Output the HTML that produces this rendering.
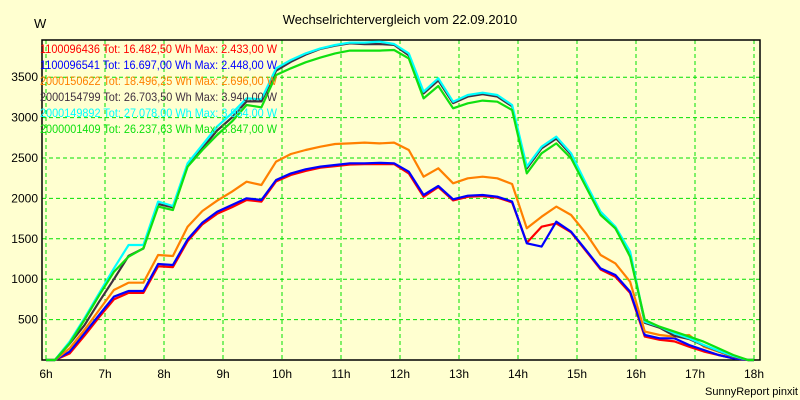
<!DOCTYPE html>
<html><head><meta charset="utf-8"><style>
html,body{margin:0;padding:0;background:#ffffd0;}
svg{display:block;font-family:"Liberation Sans",Arial,sans-serif;}
</style></head><body>
<svg id="chart" width="800" height="400" viewBox="0 0 800 400">
<rect x="0" y="0" width="800" height="400" fill="#ffffd0"/>
<text x="400" y="24" font-size="13" text-anchor="middle" fill="#000">Wechselrichtervergleich vom 22.09.2010</text>
<text x="34" y="28" font-size="13" fill="#000">W</text>
<text x="798" y="395" font-size="11" text-anchor="end" fill="#000">SunnyReport pinxit</text>
<g id="grid"></g>
<g id="axes"></g>
<g id="series"></g>
<g id="legend"></g>
</svg>
<script>
const xTicks = [6,7,8,9,10,11,12,13,14,15,16,17,18];
const xTickLabels = ["6h","7h","8h","9h","10h","11h","12h","13h","14h","15h","16h","17h","18h"];
const yTicks = [500,1000,1500,2000,2500,3000,3500];
const yTickLabels = ["500","1000","1500","2000","2500","3000","3500"];
const times = [6,6.15,6.4,6.65,6.9,7.15,7.4,7.65,7.9,8.15,8.4,8.65,8.9,9.15,9.4,9.65,9.9,10.15,10.4,10.65,10.9,11.15,11.4,11.65,11.9,12.15,12.4,12.65,12.9,13.15,13.4,13.65,13.9,14.15,14.4,14.65,14.9,15.15,15.4,15.65,15.9,16.15,16.4,16.65,16.9,17.15,17.4,17.65,17.9,18];
const seriesNames = ["1100096436","1100096541","2000150622","2000154799","2000149892","2000001409"];
const legendTexts = ["Tot: 16.482,50 Wh Max: 2.433,00 W","Tot: 16.697,00 Wh Max: 2.448,00 W","Tot: 18.496,25 Wh Max: 2.696,00 W","Tot: 26.703,50 Wh Max: 3.940,00 W","Tot: 27.078,00 Wh Max: 3.954,00 W","Tot: 26.237,63 Wh Max: 3.847,00 W"];
const seriesColors = ["#ff0000","#0000ff","#ff8000","#403040","#00ffff","#10e010"];
const s1100096436 = [0,0,80,300,530,750,830,830,1160,1150,1470,1680,1810,1890,1980,1960,2210,2290,2340,2380,2400,2420,2425,2425,2425,2310,2020,2140,1975,2020,2030,2010,1950,1450,1650,1690,1580,1350,1120,1030,830,290,250,230,165,105,62,21,0,0];
const s1100096541 = [0,0,103,330,557,784,854,854,1188,1176,1493,1700,1836,1918,2001,1980,2228,2310,2360,2393,2413,2434,2434,2440,2434,2331,2042,2153,1989,2034,2042,2021,1960,1444,1403,1712,1588,1361,1134,1052,846,309,268,268,186,124,62,21,0,0];
const s2000150622 = [0,0,144,371,619,866,957,957,1300,1287,1650,1844,1972,2083,2207,2166,2455,2549,2599,2640,2673,2681,2690,2681,2690,2599,2269,2372,2187,2249,2269,2249,2178,1630,1774,1898,1795,1568,1300,1196,969,351,309,289,309,165,103,41,0,0];
const s2000154799 = [0,0,200,430,720,1000,1290,1380,1930,1890,2400,2620,2840,3000,3200,3200,3580,3690,3780,3850,3890,3920,3910,3910,3900,3770,3300,3460,3180,3260,3290,3260,3140,2370,2620,2740,2540,2170,1810,1630,1320,460,400,300,260,180,110,45,0,0];
const s2000149892 = [0,0,227,516,825,1134,1423,1423,1960,1906,2434,2661,2888,3053,3238,3226,3610,3713,3795,3857,3899,3928,3928,3940,3911,3795,3321,3486,3197,3280,3308,3280,3156,2393,2640,2764,2558,2187,1836,1650,1341,474,412,330,268,186,115,50,0,0];
const s2000001409 = [0,0,205,495,800,1090,1279,1382,1898,1856,2393,2599,2785,2950,3156,3127,3527,3610,3684,3742,3795,3829,3829,3829,3837,3733,3238,3391,3115,3177,3210,3197,3094,2310,2558,2681,2496,2145,1795,1630,1279,495,412,351,289,227,144,62,0,0];
const seriesValues = [s1100096436,s1100096541,s2000150622,s2000154799,s2000149892,s2000001409];

const X0=46, X1=754, Y0=360, PXPER1000=80.8;
function xScale(t){return X0+(t-6)*(X1-X0)/12;}
function yScale(v){return Y0-v*PXPER1000/1000;}
const NS="http://www.w3.org/2000/svg";
function mk(tag,attrs,parent){const e=document.createElementNS(NS,tag);for(const k in attrs)e.setAttribute(k,attrs[k]);parent.appendChild(e);return e;}

const grid=document.getElementById('grid');
xTicks.forEach((t,i)=>{
  const x=xScale(t);
  const l=mk('line',{x1:x,x2:x,y1:40,y2:360,stroke:'#00e000','stroke-width':1,'stroke-dasharray':'4,3'},grid);
  
  
  const tx=mk('text',{x:x,y:378,'font-size':12,'text-anchor':'middle',fill:'#000'},grid);
  tx.textContent=xTickLabels[i];
  
  
});
yTicks.forEach((v,i)=>{
  const y=yScale(v);
  const l=mk('line',{x1:42,x2:760,y1:y,y2:y,stroke:'#00e000','stroke-width':1,'stroke-dasharray':'4,3'},grid);
  
  
  const tx=mk('text',{x:38,y:y+4,'font-size':12,'text-anchor':'end',fill:'#000'},grid);
  tx.textContent=yTickLabels[i];
  
  
});
const axes=document.getElementById('axes');
const frame=mk('rect',{x:42,y:40,width:718,height:320,fill:'none',stroke:'#000','stroke-width':1.5},axes);



const sg=document.getElementById('series');
seriesValues.forEach((vals,si)=>{
  const pts=vals.map((v,i)=>xScale(times[i]).toFixed(1)+','+yScale(v).toFixed(1)).join(' ');
  const p=mk('polyline',{points:pts,fill:'none',stroke:seriesColors[si],'stroke-width':2.2,'stroke-linejoin':'round'},sg);
  
  
});

const lg=document.getElementById('legend');
seriesNames.forEach((n,i)=>{
  const t=mk('text',{x:40,y:53+i*16,'font-size':12,fill:seriesColors[i],textLength:237,lengthAdjust:'spacingAndGlyphs'},lg);
  t.textContent=n+' '+legendTexts[i];
  
  
});
</script>
</body></html>
